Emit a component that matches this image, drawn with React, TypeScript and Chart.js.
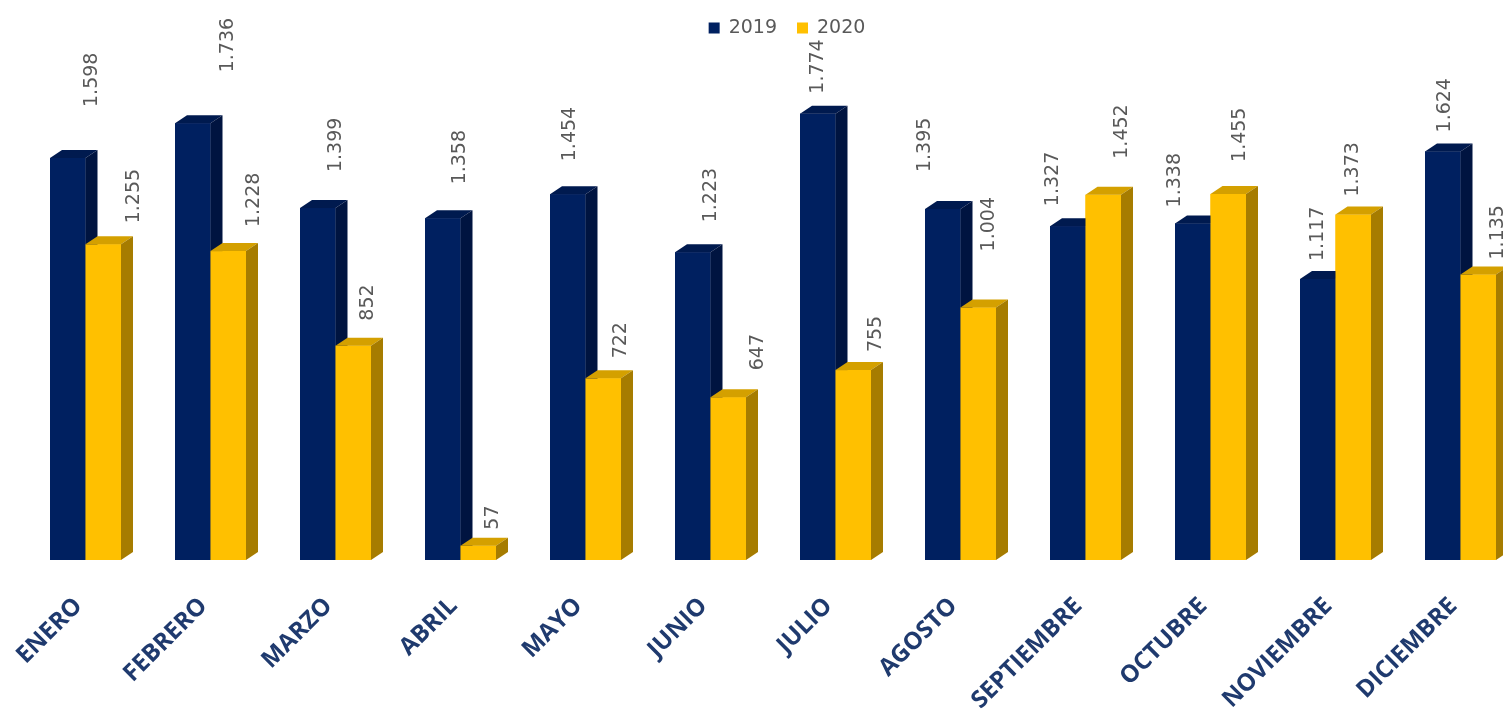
import React, { useEffect, useRef } from "react";
import { Chart, registerables } from "chart.js";

Chart.register(...registerables);

// ---- data ----
const months = [
  "ENERO", "FEBRERO", "MARZO", "ABRIL", "MAYO", "JUNIO",
  "JULIO", "AGOSTO", "SEPTIEMBRE", "OCTUBRE", "NOVIEMBRE", "DICIEMBRE",
];
const seriesNames = ["2019", "2020"];
const values2019 = [1598, 1736, 1399, 1358, 1454, 1223, 1774, 1395, 1327, 1338, 1117, 1624];
const values2020 = [1255, 1228, 852, 57, 722, 647, 755, 1004, 1452, 1455, 1373, 1135];

// data-label nudges (horizontal shift from bar centre, gap above bar top), in px
const labelDx2019 = [24, 35, 18, 17, 2, 18, 0, -18, -15, -18, 0, 2];
const labelGap2019 = [51, 51, 36, 34, 33, 30, 20, 37, 20, 16, 18, 19];
const labelDx2020 = [31, 26, 15, 15, 18, 30, 23, 11, 19, 12, 0, 20];
const labelGap2020 = [21, 24, 25, 16, 20, 27, 18, 56, 36, 32, 18, 15];

// ---- style ----
const DX = 12;
const DY = 8;
const palette = [
  { front: "#002060", top: "#001a4f", side: "#001440" },
  { front: "#FFC000", top: "#D4A000", side: "#A67C00" },
];
const LABEL_FONT = "19px 'DejaVu Sans'";
const LABEL_COLOR = "#595959";

const fmt = (v: number) =>
  v >= 1000 ? `${Math.floor(v / 1000)}.${String(v % 1000).padStart(3, "0")}` : String(v);

const bar3d = {
  id: "bar3d",
  afterDatasetsDraw(chart: any) {
    const ctx = chart.ctx as CanvasRenderingContext2D;
    const metas = [chart.getDatasetMeta(0), chart.getDatasetMeta(1)];
    const n = chart.data.labels.length;
    ctx.save();
    for (let i = 0; i < n; i++) {
      metas.forEach((meta: any, d: number) => {
        const el = meta.data[i];
        const { x, y, base, width } = el.getProps(["x", "y", "base", "width"], true);
        const l = x - width / 2;
        const r = x + width / 2;
        const c = palette[d];
        ctx.fillStyle = c.front;
        ctx.fillRect(l, y, width, base - y);
        ctx.fillStyle = c.top;
        ctx.beginPath();
        ctx.moveTo(l, y);
        ctx.lineTo(l + DX, y - DY);
        ctx.lineTo(r + DX, y - DY);
        ctx.lineTo(r, y);
        ctx.closePath();
        ctx.fill();
        ctx.fillStyle = c.side;
        ctx.beginPath();
        ctx.moveTo(r, y);
        ctx.lineTo(r + DX, y - DY);
        ctx.lineTo(r + DX, base - DY);
        ctx.lineTo(r, base);
        ctx.closePath();
        ctx.fill();
      });
    }
    // data labels
    const dxs = [labelDx2019, labelDx2020];
    const gaps = [labelGap2019, labelGap2020];
    ctx.font = LABEL_FONT;
    ctx.fillStyle = LABEL_COLOR;
    ctx.textAlign = "left";
    ctx.textBaseline = "middle";
    metas.forEach((meta: any, d: number) => {
      const vals = chart.data.datasets[d].data;
      meta.data.forEach((el: any, i: number) => {
        const { x, y } = el.getProps(["x", "y"], true);
        ctx.save();
        ctx.translate(x + dxs[d][i], y - gaps[d][i]);
        ctx.rotate(-Math.PI / 2);
        ctx.fillText(fmt(vals[i]), 0, 0);
        ctx.restore();
      });
    });
    // legend
    const legendCenterX = 787;
    const legendY = 28;
    const box = 11;
    const boxGap = 9;
    const itemGap = 20;
    const widths = seriesNames.map((s) => ctx.measureText(s).width);
    const total = widths.reduce((a, w) => a + box + boxGap + w, 0) + itemGap * (seriesNames.length - 1);
    let cx = legendCenterX - total / 2;
    seriesNames.forEach((s, k) => {
      ctx.fillStyle = palette[k].front;
      ctx.fillRect(cx, legendY - box / 2, box, box);
      cx += box + boxGap;
      ctx.fillStyle = LABEL_COLOR;
      ctx.fillText(s, cx, legendY);
      cx += widths[k] + itemGap;
    });
    ctx.restore();
  },
};

export default function App() {
  const ref = useRef<HTMLCanvasElement | null>(null);
  useEffect(() => {
    if (!ref.current) return;
    const chart = new Chart(ref.current, {
      type: "bar",
      data: {
        labels: months,
        datasets: [
          { label: seriesNames[0], data: values2019, backgroundColor: palette[0].front },
          { label: seriesNames[1], data: values2020, backgroundColor: palette[1].front },
        ],
      },
      options: {
        responsive: false,
        animation: false,
        devicePixelRatio: 1,
        layout: { padding: { left: 23, right: 37, top: 0, bottom: 0 } },
        datasets: { bar: { categoryPercentage: 0.568, barPercentage: 1 } },
        plugins: { legend: { display: false }, tooltip: { enabled: false } },
        scales: {
          x: {
            grid: { display: false },
            border: { display: false },
            ticks: {
              autoSkip: false,
              maxRotation: 45,
              minRotation: 45,
              padding: 24,
              labelOffset: -7,
              color: "#1F3A6E",
              font: { family: "'Open Sans'", weight: "bold", size: 24 },
            },
            afterFit: (s: any) => {
              s.height = 154;
              s.paddingLeft = 0;
              s.paddingRight = 0;
            },
          },
          y: { display: false, min: 0, max: 2226 },
        },
      },
      plugins: [bar3d],
    });
    return () => chart.destroy();
  }, []);
  return (
    <div style={{ position: "absolute", left: 0, top: 0, width: 1503, height: 714, overflow: "hidden", background: "#fff" }}>
      <canvas ref={ref} width={1560} height={714} style={{ width: 1560, height: 714, display: "block" }} />
    </div>
  );
}
